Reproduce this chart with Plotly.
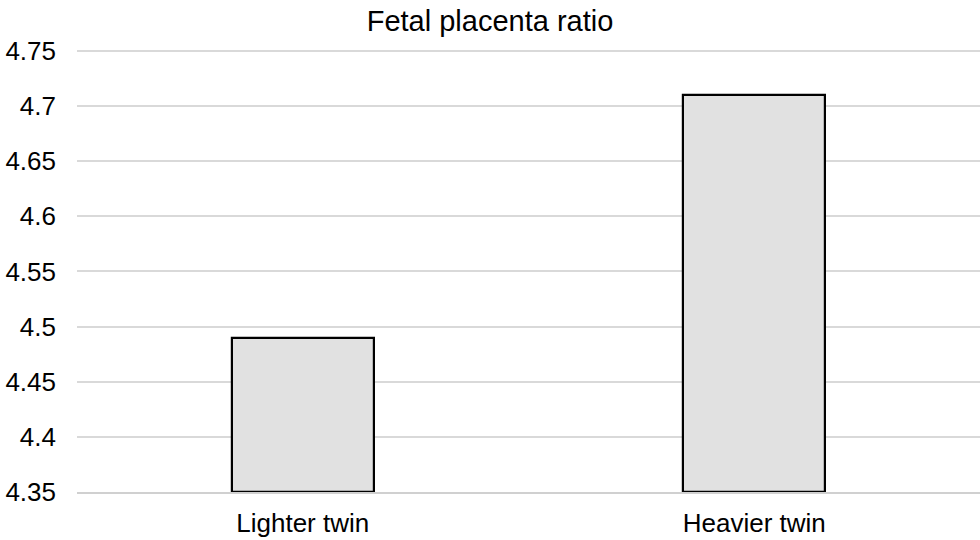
import plotly.graph_objects as go

categories = ["Lighter twin", "Heavier twin"]
values = [4.49, 4.71]
axis_min = 4.35
tick_vals = [4.35, 4.4, 4.45, 4.5, 4.55, 4.6, 4.65, 4.7, 4.75]
tick_text = ["4.35", "4.4", "4.45", "4.5", "4.55", "4.6", "4.65", "4.7", "4.75"]

fig = go.Figure()
fig.add_trace(go.Bar(
    x=categories, y=[v - axis_min for v in values], base=axis_min,
    marker=dict(color="#e1e1e1", line=dict(color="#000000", width=2.2)),
    width=0.315,
))

fig.update_layout(
    width=980, height=540,
    margin=dict(l=77, r=0, t=48, b=48),
    paper_bgcolor="white", plot_bgcolor="white",
    font=dict(family="Liberation Sans, Arial, sans-serif", size=26, color="#000000"),
    title=dict(text="Fetal placenta ratio", x=0.5, xanchor="center", y=0.962, yanchor="middle",
               font=dict(size=29)),
    showlegend=False,
    bargap=0,
)
fig.update_yaxes(
    range=[4.35, 4.7527], tickvals=tick_vals, ticktext=tick_text,
    showgrid=True, gridcolor="#d9d9d9", gridwidth=1.5,
    zeroline=False, showline=False, ticks="", ticklabelstandoff=20, automargin=False,
)
fig.update_xaxes(
    showgrid=False, showline=True, linecolor="#d0d0d0", linewidth=2,
    ticks="", ticklabelstandoff=7, automargin=False,
)
fig.write_html("out.html", config={"displayModeBar": False},
               post_script="document.body.style.margin='0';")
